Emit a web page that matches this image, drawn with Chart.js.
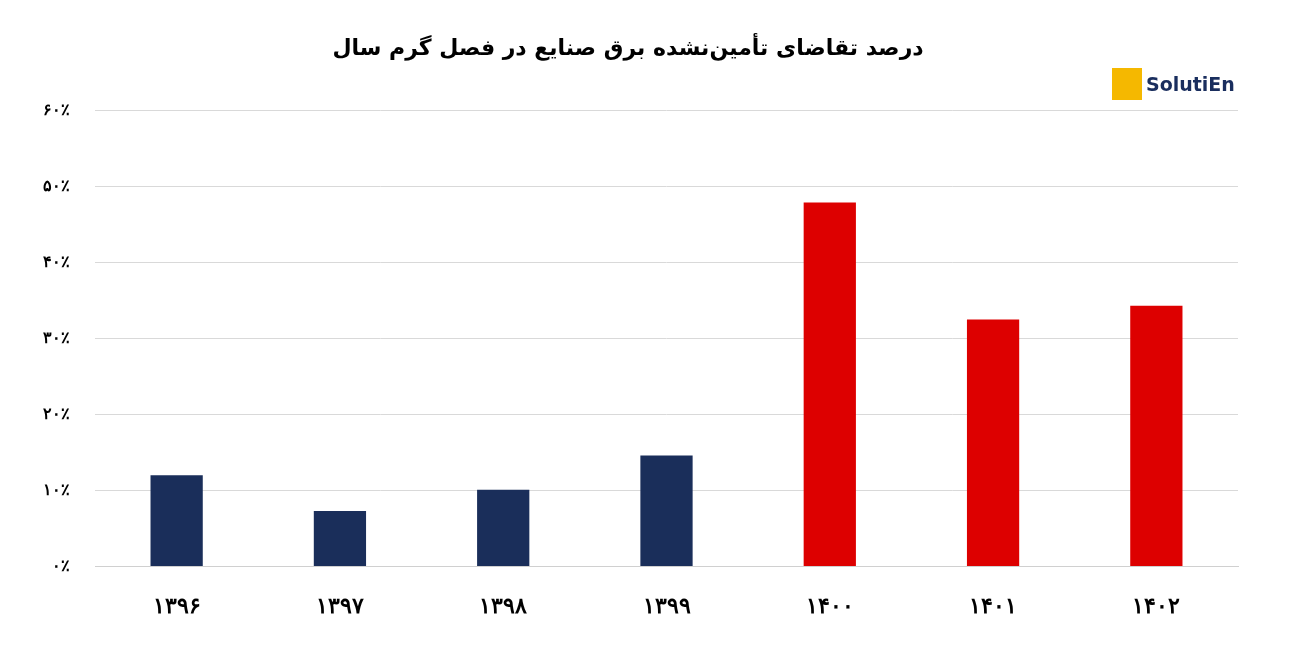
<!DOCTYPE html>
<html><head><meta charset="utf-8">
<script src="https://cdn.jsdelivr.net/npm/chart.js"></script>
<style>
body{margin:0;background:#fff;width:1301px;height:659px;overflow:hidden;position:relative;font-family:"DejaVu Sans",sans-serif}
#wrap{position:absolute;left:0;top:0;width:1301px;height:659px}
#logo{position:absolute;left:1112px;top:68px;display:flex;align-items:center;font:bold 19px "DejaVu Sans";color:#1a2e5e}
#logo span.ic{width:30px;height:32px;background:#f5b800;margin-right:4px;display:inline-block}
</style></head><body>
<div id="wrap"><canvas id="c" width="1301" height="659"></canvas></div>
<div id="logo"><span class="ic"></span>SolutiEn</div>
<script>
const categories=["۱۳۹۶","۱۳۹۷","۱۳۹۸","۱۳۹۹","۱۴۰۰","۱۴۰۱","۱۴۰۲"];
const values=[12.0,7.3,10.1,14.6,47.9,32.5,34.3];
const colors=["#1a2e5a","#1a2e5a","#1a2e5a","#1a2e5a","#dd0000","#dd0000","#dd0000"];
const tickLabels=["۰٪","۱۰٪","۲۰٪","۳۰٪","۴۰٪","۵۰٪","۶۰٪"];
const title="درصد تقاضای تأمین‌نشده برق صنایع در فصل گرم سال";
new Chart(document.getElementById('c'),{type:'bar',
data:{labels:categories,datasets:[{data:values,backgroundColor:colors,barPercentage:0.32,categoryPercentage:1}]},
options:{responsive:false,animation:false,devicePixelRatio:1,
layout:{padding:{left:18,right:63,top:8,bottom:20}},
plugins:{legend:{display:false},tooltip:{enabled:false},
title:{display:true,text:title,font:{size:22,weight:'bold',family:'"DejaVu Sans"'},color:'#000',padding:{top:28,bottom:48}}},
scales:{x:{grid:{display:false},border:{color:'#d0d0d0'},ticks:{color:'#000',font:{size:22,weight:'bold'},padding:19}},
y:{min:0,max:60,grid:{color:'#d9d9d9',drawTicks:false},border:{display:false},ticks:{stepSize:10,color:'#000',padding:25,font:{size:16,weight:'bold'},callback:(v,i)=>tickLabels[i]}}}}});
</script>
</body></html>
